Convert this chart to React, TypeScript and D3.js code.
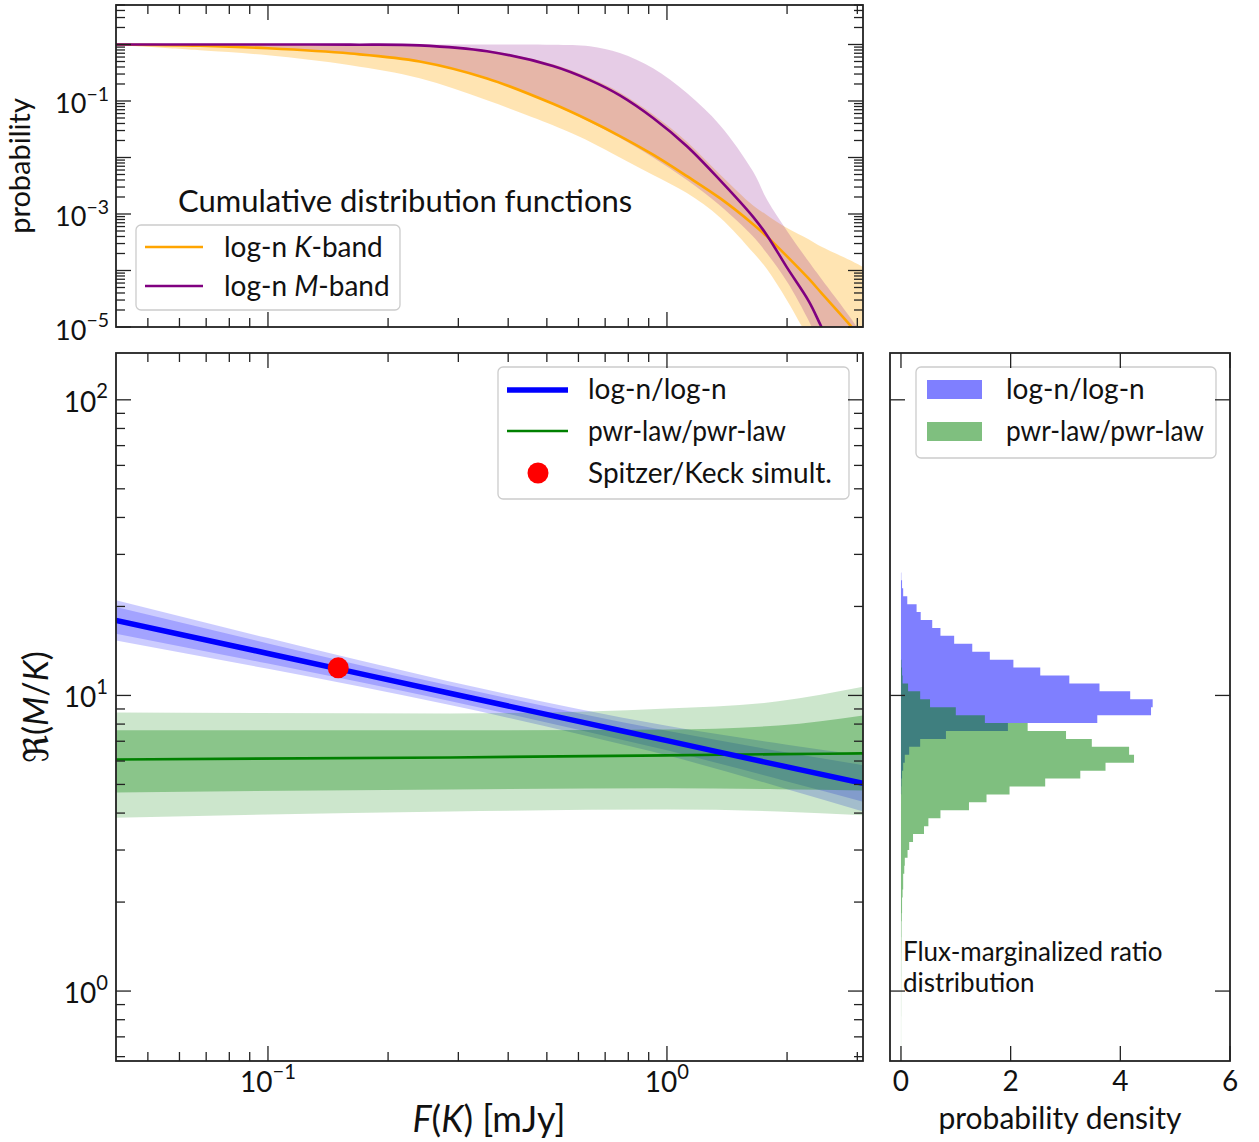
import React from "react";
import * as d3 from "d3";

const FONT = "Lato, 'DejaVu Sans', sans-serif";

// ---------- Top panel: cumulative distribution functions (log10 probability) ----------
const cdfFlux = [0.0416, 0.0676, 0.1, 0.161, 0.24, 0.354, 0.518, 0.641, 0.762, 0.923, 1.122, 1.358, 1.644, 1.782, 2.0, 2.27, 2.44, 2.88, 3.1];
const kBandMedLog = [0, -0.023, -0.067, -0.16, -0.3, -0.6, -1.05, -1.35, -1.62, -1.95, -2.33, -2.72, -3.18, -3.4, -3.75, -4.15, -4.4, -4.97, -5.25];
const kBandLoLog = [-0.005, -0.103, -0.191, -0.368, -0.598, -0.988, -1.43, -1.72, -2.0, -2.31, -2.63, -3.06, -3.68, -3.98, -4.53, -5.2, -5.5, -6.2, -6.5];
const kBandHiLog = [0, 0, 0, 0, 0, -0.1, -0.35, -0.59, -0.85, -1.24, -1.72, -2.3, -2.85, -3.02, -3.25, -3.45, -3.58, -3.82, -3.94];
const mBandMedLog = [0, 0, 0, -0.003, -0.015, -0.12, -0.38, -0.63, -0.9, -1.3, -1.8, -2.4, -3.05, -3.38, -3.95, -4.55, -5.0, -6.0, -6.5];
const mBandLoLog = [0, -0.025, -0.07, -0.165, -0.305, -0.61, -1.06, -1.37, -1.65, -2.0, -2.4, -2.85, -3.4, -3.7, -4.2, -4.9, -5.4, -6.3, -6.8];
const mBandHiLog = [0, 0, 0, 0, 0, 0, -0.004, -0.03, -0.15, -0.42, -0.86, -1.43, -2.25, -2.75, -3.3, -3.85, -4.15, -4.83, -5.15];

// ---------- Main panel: flux ratio vs K flux ----------
const lnFlux = [0.0416, 0.1, 0.28, 0.6, 1.0, 2.0, 3.1];
const lnMed = [17.95, 13.87, 10.23, 8.17, 7.03, 5.73, 5.04];
const ln68Lo = [16.18, 12.82, 9.64, 7.66, 6.52, 5.12, 4.37];
const ln68Hi = [19.91, 15.0, 10.86, 8.71, 7.59, 6.41, 5.81];
const ln95Lo = [15.35, 12.3, 9.33, 7.41, 6.27, 4.82, 4.05];
const ln95Hi = [20.99, 15.63, 11.22, 8.99, 7.89, 6.81, 6.27];

const pwrFlux = [0.0416, 0.286, 1.0, 1.9, 3.1];
const pwrMed = [6.07, 6.17, 6.27, 6.33, 6.37];
const pwr68Lo = [4.7, 4.81, 4.85, 4.82, 4.77];
const pwr68Hi = [7.62, 7.62, 7.67, 7.91, 8.55];
const pwr95Lo = [3.86, 4.05, 4.11, 4.05, 3.93];
const pwr95Hi = [8.75, 8.69, 9.04, 9.55, 10.7];

const spitzerFlux = [0.15];
const spitzerRatio = [12.4];

// ---------- Right panel: flux-marginalized ratio histograms ----------
const histTopEdge = 27.73; // upper edge of first ratio bin
const histBinRatio = 1.0637; // multiplicative bin width
const histLogN = [0, 0.005, 0.02, 0.04, 0.115, 0.285, 0.36, 0.57, 0.72, 0.97, 1.3, 1.62, 2.05, 2.54, 3.07, 3.62, 4.18, 4.59, 4.56, 3.58, 1.95, 0.82, 0.35, 0.15, 0.07, 0.04, 0.02, 0.01, 0.005];
const histPwr = [0, 0, 0, 0, 0, 0, 0, 0, 0, 0, 0, 0, 0.01, 0.02, 0.03, 0.13, 0.35, 0.53, 1.0, 1.53, 2.31, 3.01, 3.48, 4.16, 4.25, 3.73, 3.27, 2.63, 1.98, 1.56, 1.24, 0.72, 0.5, 0.42, 0.22, 0.15, 0.12, 0.07, 0.06, 0.04, 0.04, 0.03, 0.02, 0.02, 0.015, 0.01, 0.01, 0.008, 0.007, 0.006, 0.005, 0.005, 0.004, 0.004, 0.003, 0.003, 0.003, 0.002, 0.002, 0.002, 0.002, 0.002, 0.002];

const histXTicks = [0, 2, 4, 6];
const ratioMajor = [1, 10, 100];

function logTicks(lo: number, hi: number) {
  const out: { v: number; major: boolean; k: number }[] = [];
  for (let k = Math.floor(Math.log10(lo)); k <= Math.ceil(Math.log10(hi)); k++) {
    for (let m = 1; m <= 9; m++) {
      const v = m * Math.pow(10, k);
      if (v >= lo * 0.9999 && v <= hi * 1.0001) out.push({ v, major: m === 1, k });
    }
  }
  return out;
}

const AX = "#222";
const MAJ = 15;
const MIN = 9;

function Pow10({ x, y, exp, anchor, size }: { x: number; y: number; exp: number; anchor: string; size: number }) {
  const e = exp < 0 ? "\u2212" + -exp : String(exp);
  return (
    <text x={x} y={y} textAnchor={anchor as any} fontSize={size} fontFamily={FONT} fill="#111">
      10
      <tspan dy={-0.48 * size} fontSize={size * 0.72}>
        {e}
      </tspan>
    </text>
  );
}

export default function App() {
  const W = 1259,
    H = 1142;
  const tp = { l: 116, r: 863, t: 5, b: 327 };
  const mp = { l: 116, r: 863, t: 353, b: 1061 };
  const hp = { l: 890, r: 1230, t: 353, b: 1061 };

  const xF = d3.scaleLog().domain([0.0416, 3.1]).range([tp.l, tp.r]);
  const yP = d3.scaleLog().domain([1e-5, 5.0]).range([tp.b, tp.t]);
  const yR = d3.scaleLog().domain([0.58, 144]).range([mp.b, mp.t]);
  const xD = d3.scaleLinear().domain([-0.2, 6]).range([hp.l, hp.r]);

  const idx = (n: number) => d3.range(n);
  const smooth = d3.curveCatmullRom.alpha(0.5);

  // top panel shapes
  const cdfArea = (lo: number[], hi: number[]) =>
    d3
      .area<number>()
      .x((i) => xF(cdfFlux[i]))
      .y0((i) => yP(Math.pow(10, lo[i])))
      .y1((i) => yP(Math.pow(10, hi[i])))
      .curve(smooth)(idx(cdfFlux.length)) as string;
  const cdfLine = (m: number[]) =>
    d3
      .line<number>()
      .x((i) => xF(cdfFlux[i]))
      .y((i) => yP(Math.pow(10, m[i])))
      .curve(smooth)(idx(cdfFlux.length)) as string;

  // main panel shapes
  const bandArea = (fx: number[], lo: number[], hi: number[]) =>
    d3
      .area<number>()
      .x((i) => xF(fx[i]))
      .y0((i) => yR(lo[i]))
      .y1((i) => yR(hi[i]))
      .curve(d3.curveMonotoneX)(idx(fx.length)) as string;
  const bandLine = (fx: number[], m: number[]) =>
    d3
      .line<number>()
      .x((i) => xF(fx[i]))
      .y((i) => yR(m[i]))
      .curve(d3.curveMonotoneX)(idx(fx.length)) as string;

  // histogram shape
  const edge = (i: number) => histTopEdge / Math.pow(histBinRatio, i);
  const histPath = (vals: number[]) => {
    const pts: [number, number][] = [[xD(0), yR(edge(0))]];
    vals.forEach((v, i) => {
      pts.push([xD(v), yR(edge(i))]);
      pts.push([xD(v), yR(edge(i + 1))]);
    });
    pts.push([xD(0), yR(edge(vals.length))]);
    return (d3.line()(pts) as string) + "Z";
  };

  const fxTicks = logTicks(0.0416, 3.1);
  const pTicks = logTicks(1e-5, 5.0);
  const rTicks = logTicks(0.58, 144);

  const tickLines: React.ReactNode[] = [];
  [tp, mp].forEach((p, pi) => {
    fxTicks.forEach((t, j) => {
      const x = xF(t.v);
      const L = t.major ? MAJ : MIN;
      tickLines.push(<line key={`fx${pi}b${j}`} x1={x} x2={x} y1={p.b} y2={p.b - L} stroke={AX} strokeWidth={1.3} />);
      tickLines.push(<line key={`fx${pi}t${j}`} x1={x} x2={x} y1={p.t} y2={p.t + L} stroke={AX} strokeWidth={1.3} />);
    });
  });
  pTicks.forEach((t, j) => {
    const y = yP(t.v);
    const L = t.major ? MAJ : MIN;
    tickLines.push(<line key={`pl${j}`} x1={tp.l} x2={tp.l + L} y1={y} y2={y} stroke={AX} strokeWidth={1.3} />);
    tickLines.push(<line key={`pr${j}`} x1={tp.r} x2={tp.r - L} y1={y} y2={y} stroke={AX} strokeWidth={1.3} />);
  });
  rTicks.forEach((t, j) => {
    const y = yR(t.v);
    const L = t.major ? MAJ : MIN;
    tickLines.push(<line key={`rl${j}`} x1={mp.l} x2={mp.l + L} y1={y} y2={y} stroke={AX} strokeWidth={1.3} />);
    tickLines.push(<line key={`rr${j}`} x1={mp.r} x2={mp.r - L} y1={y} y2={y} stroke={AX} strokeWidth={1.3} />);
  });
  ratioMajor.forEach((v, j) => {
    const y = yR(v);
    tickLines.push(<line key={`hl${j}`} x1={hp.l} x2={hp.l + MAJ} y1={y} y2={y} stroke={AX} strokeWidth={1.3} />);
    tickLines.push(<line key={`hr${j}`} x1={hp.r} x2={hp.r - MAJ} y1={y} y2={y} stroke={AX} strokeWidth={1.3} />);
  });
  histXTicks.forEach((v, j) => {
    const x = xD(v);
    tickLines.push(<line key={`hb${j}`} x1={x} x2={x} y1={hp.b} y2={hp.b - MAJ} stroke={AX} strokeWidth={1.3} />);
    tickLines.push(<line key={`ht${j}`} x1={x} x2={x} y1={hp.t} y2={hp.t + MAJ} stroke={AX} strokeWidth={1.3} />);
  });

  const TICK = 27;
  const LEG = 28;

  return (
    <svg width={W} height={H} style={{ position: "absolute", left: 0, top: 0, background: "#fff" }}>
      <defs>
        <clipPath id="clipTop">
          <rect x={tp.l} y={tp.t} width={tp.r - tp.l} height={tp.b - tp.t} />
        </clipPath>
        <clipPath id="clipMain">
          <rect x={mp.l} y={mp.t} width={mp.r - mp.l} height={mp.b - mp.t} />
        </clipPath>
        <clipPath id="clipHist">
          <rect x={hp.l} y={hp.t} width={hp.r - hp.l} height={hp.b - hp.t} />
        </clipPath>
      </defs>
      <rect x={0} y={0} width={W} height={H} fill="#fff" />

      {/* ---------- Top panel ---------- */}
      <g clipPath="url(#clipTop)">
        <path d={cdfArea(kBandLoLog, kBandHiLog)} fill="orange" fillOpacity={0.3} />
        <path d={cdfArea(mBandLoLog, mBandHiLog)} fill="purple" fillOpacity={0.2} />
        <path d={cdfLine(kBandMedLog)} fill="none" stroke="orange" strokeWidth={2.6} />
        <path d={cdfLine(mBandMedLog)} fill="none" stroke="purple" strokeWidth={2.6} />
      </g>
      <text x={178} y={212} fontSize={31} fontFamily={FONT} fill="#111">
        Cumulative distribution functions
      </text>
      <rect x={136} y={225} width={264} height={85} rx={5} fill="#fff" fillOpacity={0.8} stroke="#ccc" strokeWidth={1.3} />
      <line x1={145} x2={203} y1={247} y2={247} stroke="orange" strokeWidth={2.6} />
      <line x1={145} x2={203} y1={286} y2={286} stroke="purple" strokeWidth={2.6} />
      <text x={224} y={257} fontSize={LEG} fontFamily={FONT} fill="#111">
        log-n <tspan fontStyle="italic">K</tspan>-band
      </text>
      <text x={224} y={296} fontSize={LEG} fontFamily={FONT} fill="#111">
        log-n <tspan fontStyle="italic">M</tspan>-band
      </text>
      {[-1, -3, -5].map((e) => (
        <Pow10 key={`pl${e}`} x={109} y={yP(Math.pow(10, e)) + 12.5} exp={e} anchor="end" size={TICK} />
      ))}
      <text transform={`translate(30,166) rotate(-90)`} textAnchor="middle" fontSize={29} fontFamily={FONT} fill="#111">
        probability
      </text>

      {/* ---------- Main panel ---------- */}
      <g clipPath="url(#clipMain)">
        <path d={bandArea(lnFlux, ln95Lo, ln95Hi)} fill="blue" fillOpacity={0.2} stroke="none" />
        <path d={bandArea(lnFlux, ln68Lo, ln68Hi)} fill="blue" fillOpacity={0.2} stroke="none" />
        <path d={bandArea(pwrFlux, pwr95Lo, pwr95Hi)} fill="green" fillOpacity={0.2} stroke="none" />
        <path d={bandArea(pwrFlux, pwr68Lo, pwr68Hi)} fill="green" fillOpacity={0.32} stroke="none" />
        <path d={bandLine(pwrFlux, pwrMed)} fill="none" stroke="green" strokeWidth={2.6} />
        <path d={bandLine(lnFlux, lnMed)} fill="none" stroke="blue" strokeWidth={5.5} />
        {spitzerFlux.map((f, i) => (
          <circle key={`sp${i}`} cx={xF(f)} cy={yR(spitzerRatio[i])} r={10.5} fill="red" />
        ))}
      </g>
      <rect x={498} y={367} width={351} height={132} rx={5} fill="#fff" fillOpacity={0.8} stroke="#ccc" strokeWidth={1.3} />
      <line x1={507} x2={568} y1={390} y2={390} stroke="blue" strokeWidth={5.5} />
      <line x1={507} x2={568} y1={431} y2={431} stroke="green" strokeWidth={2.6} />
      <circle cx={538} cy={473} r={10.5} fill="red" />
      <text x={588} y={399} fontSize={LEG} fontFamily={FONT} fill="#111">
        log-n/log-n
      </text>
      <text x={588} y={441} fontSize={LEG} fontFamily={FONT} fill="#111" textLength={198} lengthAdjust="spacingAndGlyphs">
        pwr-law/pwr-law
      </text>
      <text x={588} y={483} fontSize={LEG} fontFamily={FONT} fill="#111">
        Spitzer/Keck simult.
      </text>
      {[2, 1, 0].map((e) => (
        <Pow10 key={`rl${e}`} x={108} y={yR(Math.pow(10, e)) + 12} exp={e} anchor="end" size={TICK + 1} />
      ))}
      {[-1, 0].map((e) => (
        <Pow10 key={`fx${e}`} x={xF(Math.pow(10, e))} y={1092} exp={e} anchor="middle" size={TICK + 1} />
      ))}
      <text transform={`translate(48,707) rotate(-90)`} textAnchor="middle" fontSize={34} fontFamily={FONT} fill="#111">
        <tspan fontFamily="'DejaVu Sans', sans-serif">ℜ</tspan>(<tspan fontStyle="italic">M</tspan>/<tspan fontStyle="italic">K</tspan>)
      </text>
      <text x={489} y={1132} textAnchor="middle" fontSize={36} fontFamily={FONT} fill="#111">
        <tspan fontStyle="italic">F</tspan>(<tspan fontStyle="italic">K</tspan>) [mJy]
      </text>

      {/* ---------- Histogram panel ---------- */}
      <g clipPath="url(#clipHist)">
        <path d={histPath(histLogN)} fill="blue" fillOpacity={0.5} />
        <path d={histPath(histPwr)} fill="green" fillOpacity={0.5} />
      </g>
      <rect x={916} y={367} width={300} height={91} rx={5} fill="#fff" fillOpacity={0.8} stroke="#ccc" strokeWidth={1.3} />
      <rect x={927} y={380} width={55} height={19} fill="blue" fillOpacity={0.5} />
      <rect x={927} y={422} width={55} height={19} fill="green" fillOpacity={0.5} />
      <text x={1006} y={399} fontSize={LEG} fontFamily={FONT} fill="#111">
        log-n/log-n
      </text>
      <text x={1006} y={441} fontSize={LEG} fontFamily={FONT} fill="#111" textLength={198} lengthAdjust="spacingAndGlyphs">
        pwr-law/pwr-law
      </text>
      <text x={903} y={961} fontSize={26} fontFamily={FONT} fill="#111">
        Flux-marginalized ratio
      </text>
      <text x={903} y={992} fontSize={26} fontFamily={FONT} fill="#111">
        distribution
      </text>
      {histXTicks.map((v) => (
        <text key={`hx${v}`} x={xD(v)} y={1091} textAnchor="middle" fontSize={TICK + 1} fontFamily={FONT} fill="#111">
          {v}
        </text>
      ))}
      <text x={1060} y={1129} textAnchor="middle" fontSize={30} fontFamily={FONT} fill="#111">
        probability density
      </text>

      {/* ticks and frames */}
      {tickLines}
      {[tp, mp, hp].map((p, i) => (
        <rect key={`fr${i}`} x={p.l} y={p.t} width={p.r - p.l} height={p.b - p.t} fill="none" stroke={AX} strokeWidth={1.8} />
      ))}
    </svg>
  );
}
